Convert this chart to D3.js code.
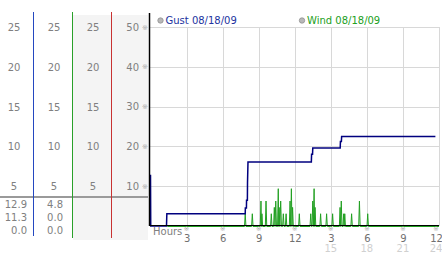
<!DOCTYPE html>
<html>
<head>
<meta charset="utf-8">
<script src="https://cdn.jsdelivr.net/npm/d3@7"></script>
<style>
  body { margin: 0; background: #fff; }
  text { font-family: "DejaVu Sans", Verdana, sans-serif; }
</style>
</head>
<body>
<div id="chart"></div>
<script>
// values
const leftTicks = [5, 10, 15, 20, 25];        // mph columns
const rightTicks = [10, 20, 30, 40, 50];      // chart y axis
const gustStats = ['12.9', '11.3', '0.0'];
const windStats = ['4.8', '0.0', '0.0'];
const hourTicks = [3, 6, 9, 12, 15, 18, 21, 24];
const hourLabels = ['3', '6', '9', '12', '3', '6', '9', '12'];
const hourLabels24 = ['', '', '', '', '15', '18', '21', '24'];
const seriesNames = ['Gust 08/18/09', 'Wind 08/18/09'];

// gust steps [hour, value]
const gustReadings = [
  [0, 12.9], [0.02, 0], [1.33, 0], [1.36, 3.1], [7.88, 3.1], [7.89, 4.5],
  [7.98, 4.5], [7.99, 6.5], [8.06, 6.5], [8.07, 10.8], [8.11, 16.1],
  [13.38, 16.1], [13.40, 18], [13.48, 18], [13.50, 19.6], [15.78, 19.6],
  [15.80, 21.2], [15.88, 21.2], [15.90, 22.5], [23.7, 22.5]
];

// wind readings [hour, value]
const windReadings = [
  [1.40, 0],
  [7.82, 0], [7.88, 3.2], [7.94, 0],
  [8.41, 0], [8.47, 3.2], [8.53, 0],
  [9.13, 0], [9.19, 6.4], [9.23, 0], [9.27, 3.2], [9.33, 0],
  [9.55, 0], [9.61, 6.4], [9.67, 0],
  [9.99, 0], [10.05, 3.2], [10.11, 0],
  [10.24, 0], [10.30, 4.8], [10.36, 0], [10.42, 6.4], [10.48, 0],
  [10.57, 0], [10.63, 9.5], [10.67, 0], [10.70, 4.8], [10.76, 0], [10.83, 6.4], [10.89, 0],
  [10.99, 0], [11.05, 3.2], [11.11, 0],
  [11.22, 0], [11.28, 3.2], [11.34, 0],
  [11.55, 0], [11.61, 6.4], [11.66, 0], [11.72, 9.5], [11.77, 0], [11.82, 4.8], [11.88, 0],
  [12.32, 0], [12.38, 3.2], [12.44, 0],
  [13.27, 0], [13.33, 3.2], [13.39, 0], [13.44, 0], [13.50, 6.4], [13.55, 0],
  [13.61, 9.5], [13.65, 0], [13.69, 4.8], [13.75, 0],
  [14.09, 0], [14.15, 3.2], [14.21, 0],
  [14.59, 0], [14.65, 3.2], [14.71, 0],
  [15.09, 0], [15.15, 3.2], [15.21, 0],
  [15.71, 0], [15.77, 4.8], [15.82, 0], [15.87, 6.4], [15.93, 0],
  [16.01, 0], [16.07, 3.2], [16.11, 0], [16.16, 3.2], [16.22, 0],
  [16.67, 0], [16.73, 3.2], [16.79, 0],
  [17.32, 0], [17.38, 6.4], [17.44, 0],
  [18.01, 0], [18.07, 3.2], [18.13, 0],
  [24.0, 0]
];

const W = 442, H = 253;
const gustColor = '#00007f';
const windColor = '#22a022';
const labelColor = '#808080';

const svg = d3.select('#chart').append('svg')
  .attr('width', W)
  .attr('height', H);

const x = d3.scaleLinear().domain([0, 24]).range([150.5, 439]);
const y = d3.scaleLinear().domain([0, 50]).range([226, 27]);
const yLeft = d3.scaleLinear().domain([0, 25]).range([226, 27]);

// left panel background
svg.append('rect')
  .attr('x', 73).attr('y', 15)
  .attr('width', 75).attr('height', 225)
  .attr('fill', '#f4f4f4');

// column tick labels
const colCenters = [14, 54, 93];
colCenters.forEach(cx => {
  svg.append('g').selectAll('text')
    .data(leftTicks)
    .join('text')
    .attr('x', cx)
    .attr('y', d => yLeft(d) + 4)
    .attr('text-anchor', 'middle')
    .attr('font-size', 10)
    .attr('fill', labelColor)
    .text(d => d);
});

// chart y axis labels in the 4th column
const yAxis = d3.axisLeft(y)
  .tickValues(rightTicks)
  .tickSize(0)
  .tickPadding(0)
  .tickFormat(d => d);
const yAxisG = svg.append('g')
  .attr('transform', 'translate(139,0)')
  .call(yAxis);
yAxisG.select('.domain').remove();
yAxisG.selectAll('text')
  .attr('font-size', 10)
  .attr('font-family', '"DejaVu Sans", sans-serif')
  .attr('fill', labelColor);
svg.append('g').selectAll('text')
  .data(rightTicks)
  .join('text')
  .attr('x', 145)
  .attr('y', d => y(d) + 2.5)
  .attr('text-anchor', 'middle')
  .attr('font-size', 7)
  .attr('fill', '#a8a8a8')
  .text('\u203B');

// stats under the separator
svg.append('g').selectAll('text')
  .data(gustStats)
  .join('text')
  .attr('x', 27)
  .attr('y', (d, i) => 208 + i * 13)
  .attr('text-anchor', 'end')
  .attr('font-size', 10)
  .attr('fill', labelColor)
  .text(d => d);
svg.append('g').selectAll('text')
  .data(windStats)
  .join('text')
  .attr('x', 63)
  .attr('y', (d, i) => 208 + i * 13)
  .attr('text-anchor', 'end')
  .attr('font-size', 10)
  .attr('fill', labelColor)
  .text(d => d);

// separator
svg.append('line')
  .attr('x1', 0).attr('x2', 148)
  .attr('y1', 197).attr('y2', 197)
  .attr('stroke', '#9a9a9a')
  .attr('stroke-width', 2);

// column lines
[[33.5, '#2448c0', 236], [72.5, '#2aa02a', 238], [111.5, '#c83232', 238]].forEach(c => {
  svg.append('line')
    .attr('x1', c[0]).attr('x2', c[0])
    .attr('y1', 12).attr('y2', c[2])
    .attr('stroke', c[1])
    .attr('stroke-width', 1);
});

// grid
svg.append('g').selectAll('line')
  .data(rightTicks)
  .join('line')
  .attr('x1', 150).attr('x2', 440)
  .attr('y1', d => Math.round(y(d)) + 0.5)
  .attr('y2', d => Math.round(y(d)) + 0.5)
  .attr('stroke', '#d8d8d8');
svg.append('g').selectAll('line')
  .data(hourTicks)
  .join('line')
  .attr('x1', d => Math.round(x(d)) + 0.5)
  .attr('x2', d => Math.round(x(d)) + 0.5)
  .attr('y1', y(50)).attr('y2', 226)
  .attr('stroke', '#d8d8d8');

// series
const line = d3.line()
  .x(d => x(d[0]))
  .y(d => y(d[1]));

svg.append('path')
  .datum(windReadings)
  .attr('d', line)
  .attr('transform', 'translate(0,0.5)')
  .attr('fill', 'none')
  .attr('stroke', windColor)
  .attr('stroke-width', 1);

svg.append('path')
  .datum(gustReadings)
  .attr('d', line)
  .attr('fill', 'none')
  .attr('stroke', gustColor)
  .attr('stroke-width', 1.5);

// axis lines
svg.append('line')
  .attr('x1', 149.5).attr('x2', 149.5)
  .attr('y1', 13).attr('y2', 226)
  .attr('stroke', '#000')
  .attr('stroke-width', 1.5);
svg.append('line')
  .attr('x1', 149).attr('x2', 439)
  .attr('y1', 225.5).attr('y2', 225.5)
  .attr('stroke', '#000')
  .attr('stroke-width', 1);

// x axis labels
const xAxis = d3.axisBottom(x)
  .tickValues(hourTicks)
  .tickSize(0)
  .tickPadding(0)
  .tickFormat((d, i) => hourLabels[i]);
const xAxisG = svg.append('g')
  .attr('transform', 'translate(0,235)')
  .call(xAxis);
xAxisG.select('.domain').remove();
xAxisG.selectAll('text')
  .attr('font-size', 10)
  .attr('font-family', '"DejaVu Sans", sans-serif')
  .attr('fill', '#707070')
  .attr('dx', d => d === 24 ? -3 : 0);

svg.append('g').selectAll('text')
  .data(hourTicks)
  .join('text')
  .attr('x', d => x(d) + (d === 24 ? -3 : 0))
  .attr('y', 252)
  .attr('text-anchor', 'middle')
  .attr('font-size', 10)
  .attr('fill', '#d0d0d0')
  .text((d, i) => hourLabels24[i]);

svg.append('g').selectAll('text')
  .data(hourTicks)
  .join('text')
  .attr('x', d => x(d) + (d === 24 ? -3 : 0))
  .attr('y', 231)
  .attr('text-anchor', 'middle')
  .attr('font-size', 6.5)
  .attr('fill', '#a8a8a8')
  .text('\u203B');

svg.append('text')
  .attr('x', 153).attr('y', 235)
  .attr('font-size', 10)
  .attr('fill', '#808080')
  .text('Hours');

// legend
const legendX = [160.5, 302];
const legendColors = ['#2233a0', '#22a022'];
seriesNames.forEach((name, i) => {
  svg.append('circle')
    .attr('cx', legendX[i]).attr('cy', 20.5)
    .attr('r', 2.7)
    .attr('fill', '#b8b8b8')
    .attr('stroke', '#909090')
    .attr('stroke-width', 0.8);
  svg.append('text')
    .attr('x', legendX[i] + 5).attr('y', 24)
    .attr('font-size', 10)
    .attr('fill', legendColors[i])
    .text(name);
});
</script>
</body>
</html>
